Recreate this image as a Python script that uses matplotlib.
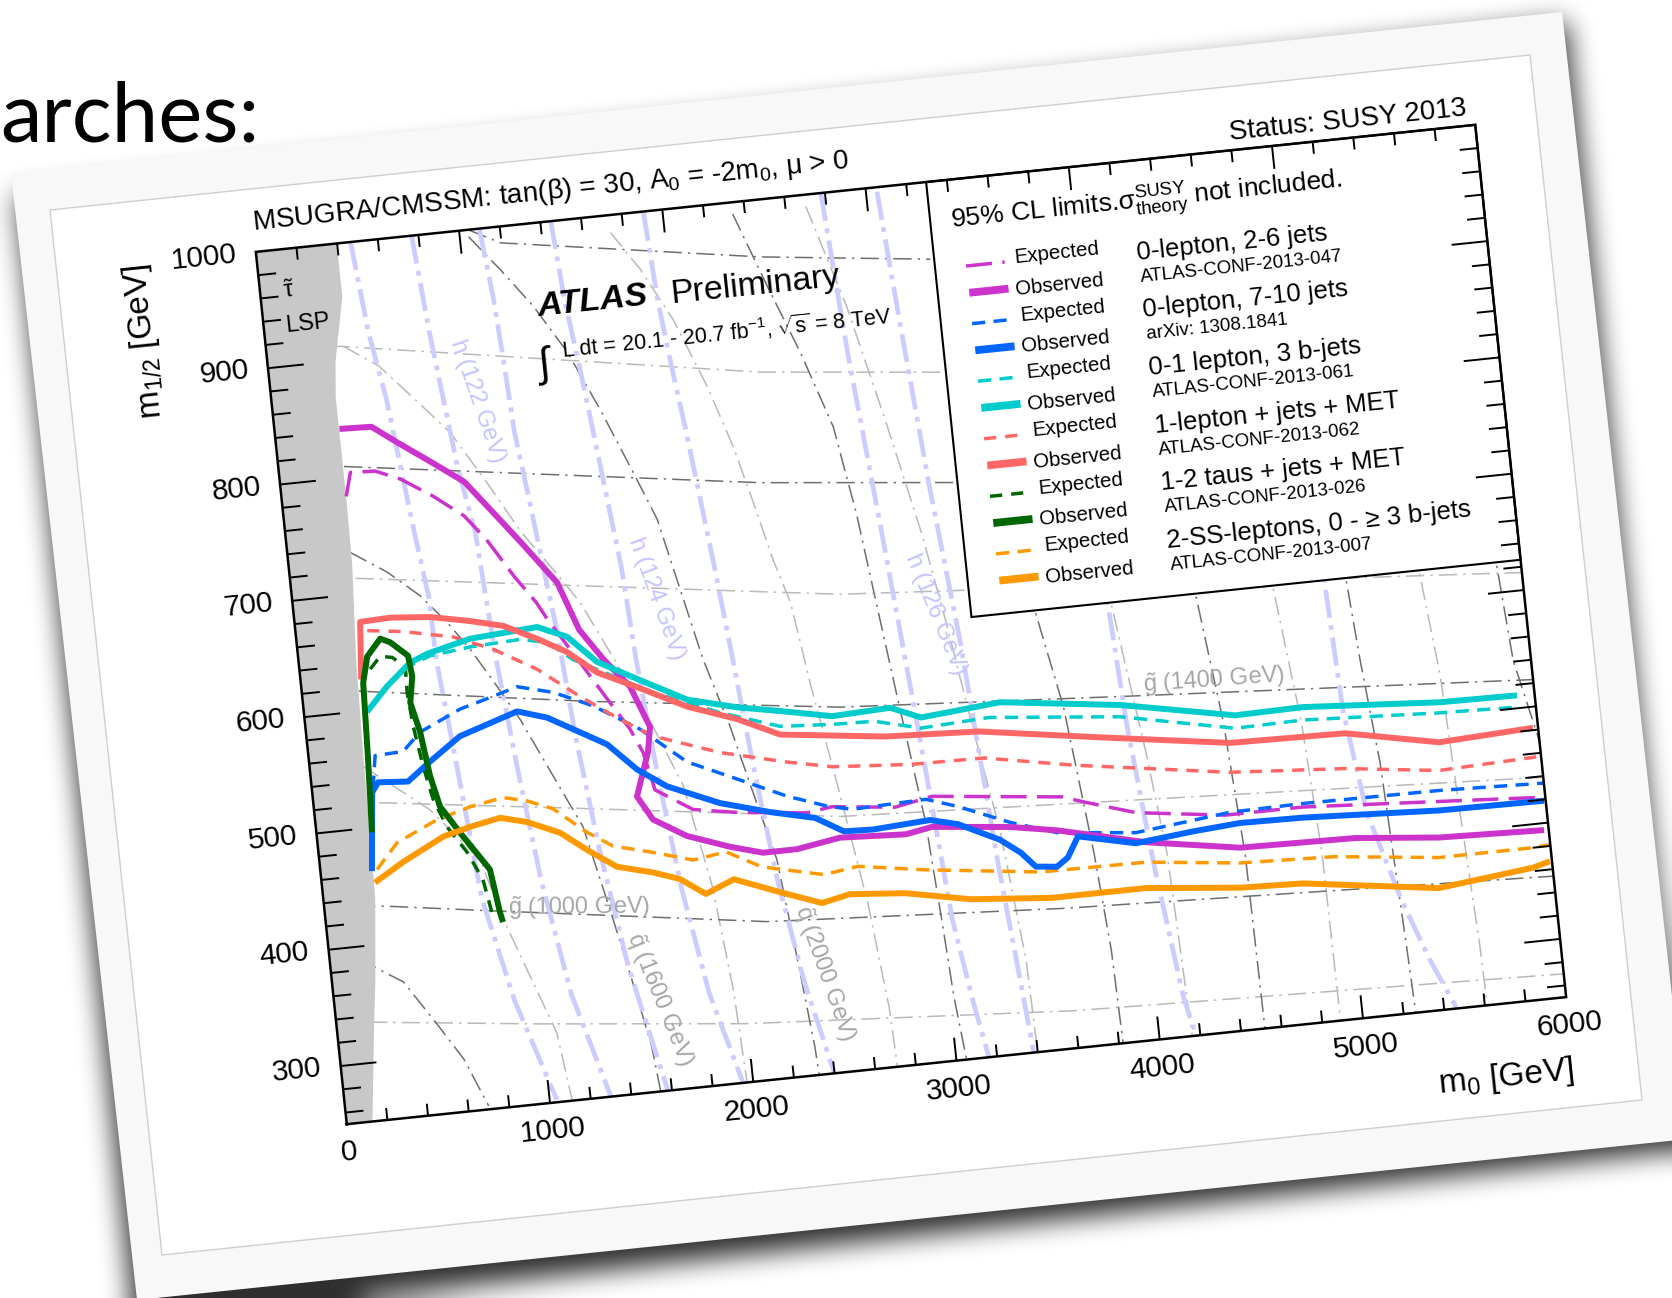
import numpy as np
import matplotlib.pyplot as plt
from matplotlib.collections import LineCollection
from matplotlib.transforms import Affine2D
import mpl_toolkits.axisartist.floating_axes as floating_axes

plt.rcParams['font.family'] = ['Liberation Sans', 'DejaVu Sans']
plt.rcParams['mathtext.fontset'] = 'custom'
plt.rcParams['mathtext.rm'] = 'Liberation Sans'
plt.rcParams['mathtext.it'] = 'Liberation Sans:italic'
plt.rcParams['mathtext.bf'] = 'Liberation Sans:bold'

# ---------------------------------------------------------------
# 95% CL exclusion contours in the (m0, m1/2) plane, GeV
# ---------------------------------------------------------------
m0_0l26_obs = [317, 474, 587, 752, 898, 1024, 1145, 1299, 1382, 1484, 1601, 1678, 1655, 1614, 1579,
               1645, 1802, 2006, 2164, 2331, 2546, 2869, 3000, 3379, 3606, 4033, 4488, 5053, 5462, 5977]
m12_0l26_obs = [842, 841, 826, 805, 786, 757, 729, 692, 650, 623, 597, 561, 540, 520, 503,
                482, 465, 452, 444, 444, 450, 447, 451, 444, 437, 419, 406, 404, 397, 394]
m0_0l26_exp = [316, 348, 470, 588, 735, 880, 976, 1093, 1187, 1232, 1370, 1496, 1579, 1631, 1670,
               1845, 2043, 2398, 2523, 2830, 3015, 3648, 3747, 4000, 4432, 4816, 5993]
m12_0l26_exp = [784, 804, 803, 794, 777, 757, 735, 701, 677, 662, 622, 585, 561, 540, 507,
                487, 481, 474, 477, 471, 477, 465, 459, 445, 435, 435, 422]

m0_0l710_obs = [251, 292, 326, 472, 589, 748, 1039, 1182, 1460, 1593, 1730, 1980, 2218, 2435, 2569,
                2711, 2994, 3127, 3324, 3420, 3485, 3588, 3646, 3705, 3984, 4267, 4501, 4810, 5476, 5992]
m12_0l710_obs = [463, 530, 538, 536, 551, 570, 586, 578, 550, 526, 509, 490, 478, 469, 455,
                 454, 457, 451, 434, 421, 408, 406, 413, 430, 419, 424, 427, 426, 420, 419]
m0_0l710_exp = [298, 325, 463, 556, 762, 930, 1051, 1224, 1411, 1628, 1840, 2075, 2309, 2499, 2619,
                2984, 3136, 3381, 3605, 3989, 4458, 4818, 5486, 6000]
m12_0l710_exp = [533, 561, 562, 577, 593, 601, 607, 599, 584, 560, 528, 509, 490, 478, 473,
                 475, 466, 448, 435, 428, 437, 438, 437, 434]

m0_3b_obs = [308, 419, 543, 630, 847, 1179, 1320, 1453, 1639, 1872, 2111, 2319, 2569, 2856, 3002,
             3394, 3977, 4532, 4867, 5531, 5914]
m12_3b_obs = [599, 619, 637, 643, 652, 656, 645, 621, 603, 581, 570, 563, 554, 556, 545,
              551, 538, 519, 520, 512, 511]
m0_3b_exp = [505, 643, 843, 1090, 1220, 1338, 1477, 1710, 2026, 2311, 2565, 2771, 2997, 3333, 3971,
             4525, 4860, 5526, 5908]
m12_3b_exp = [632, 641, 645, 647, 642, 625, 612, 590, 567, 550, 547, 546, 536, 539, 528,
              508, 509, 503, 501]

m0_1l_obs = [296, 320, 469, 663, 856, 1014, 1173, 1312, 1448, 1635, 1869, 2105, 2307, 2817, 3277,
             3834, 4493, 5058, 5511, 5975]
m12_1l_obs = [627, 676, 677, 674, 667, 660, 646, 632, 612, 596, 575, 560, 543, 532, 528,
              513, 496, 494, 478, 482]
m0_1l_exp = [350, 525, 765, 954, 1158, 1353, 1536, 1688, 2006, 2327, 2544, 2929, 3288, 3718, 4478,
             5040, 5496, 5985]
m12_1l_exp = [668, 664, 655, 641, 620, 593, 570, 553, 533, 519, 511, 506, 505, 491, 471,
              464, 454, 457]

m0_tau_obs = [271, 289, 304, 337, 409, 456, 536, 546, 523, 556, 582, 615, 699, 826, 853, 863]
m12_tau_obs = [496, 559, 624, 646, 660, 656, 643, 625, 603, 577, 539, 512, 488, 454, 417, 408]
m0_tau_exp = [345, 400, 458, 517, 513, 525, 553, 585, 639, 723, 787, 817]
m12_tau_exp = [635, 645, 643, 634, 612, 583, 548, 519, 494, 471, 446, 414]

m0_ss_obs = [260, 407, 615, 751, 902, 1031, 1186, 1309, 1446, 1618, 1746, 1865, 2009, 2226, 2425,
             2566, 2834, 3152, 3547, 4010, 4467, 4777, 5436, 5904, 5990]
m12_ss_obs = [453, 468, 486, 492, 497, 491, 479, 462, 445, 437, 429, 414, 424, 409, 396,
              401, 397, 386, 380, 380, 372, 370, 354, 363, 367]
m0_ss_exp = [277, 388, 594, 761, 926, 1041, 1164, 1317, 1437, 1629, 1820, 1984, 2152, 2449, 2619,
             2948, 3507, 4023, 4480, 4941, 5451, 5914, 5995]
m12_ss_exp = [464, 485, 501, 509, 514, 509, 500, 477, 463, 454, 444, 448, 432, 420, 424,
              415, 403, 402, 393, 390, 380, 380, 381]

# stau-LSP region boundary
lsp_m12 = [250, 335, 370, 440, 560, 645, 725, 780, 870, 900, 955, 1000]
lsp_m0 = [124, 183, 210, 251, 265, 279, 308, 313, 313, 330, 396, 396]

# gluino mass contours (dark: labelled family, light: intermediate)
gl_dark_m0 = [[0, 300, 800, 2150, 3600, 6000], [0, 250, 1400, 2613, 4000, 6000],
              [0, 307, 2338, 3278], [900, 1045, 1196, 2454, 3280]]
gl_dark_m12 = [[436, 432, 419, 385, 370, 354], [622, 618, 588, 561, 545, 523],
               [815, 810, 759, 742], [1010, 1000, 986, 951, 934]]
gl_light_m0 = [[0, 150, 1000, 2000, 3600, 6000], [0, 300, 1165, 2557, 6000],
               [0, 300, 2670, 5850, 6000], [0, 370, 2395, 3271]]
gl_light_m12 = [[338, 335, 318, 300, 282, 270], [525, 521, 501, 468, 439],
                [720, 714, 657, 617, 615], [918, 912, 853, 837]]

# squark mass contours
sq_dark_m0 = [[150, 233, 348, 498, 603, 700],
              [307, 477, 625, 743, 842, 954, 1049, 1181, 1301, 1393, 1461, 1524, 1545],
              [1043, 1182, 1324, 1466, 1597, 1725, 1818, 1970, 2068, 2146, 2228, 2281, 2318, 2325],
              [2340, 2473, 2600, 2722, 2790, 2890, 2970, 3000, 3020, 3050],
              [3560, 3610, 3700, 3775, 3810, 3820],
              [4350, 4400, 4470, 4510, 4518],
              [5110, 5140, 5168, 5213, 5249, 5260],
              [5850, 5880, 5913, 6000]]
sq_dark_m12 = [[390, 379, 366, 325, 295, 253],
               [736, 716, 693, 668, 643, 609, 579, 528, 482, 407, 348, 289, 250],
               [994, 963, 929, 887, 835, 779, 737, 614, 554, 496, 437, 344, 274, 250],
               [990, 925, 866, 800, 725, 574, 457, 371, 305, 250],
               [700, 626, 542, 414, 330, 250],
               [700, 626, 516, 400, 250],
               [700, 626, 555, 466, 307, 250],
               [700, 626, 541, 470]]
sq_light_m0 = [[261, 565, 783, 867, 1069, 1110],
               [378, 541, 697, 855, 1005, 1150, 1300, 1401, 1561, 1693, 1810, 1900, 1950, 1970],
               [1736, 1863, 1998, 2130, 2225, 2294, 2362, 2425, 2482, 2560, 2650, 2700, 2710],
               [2700, 2850, 2980, 3100, 3170, 3250, 3330, 3390, 3400],
               [3930, 3995, 4079, 4130, 4160],
               [4740, 4780, 4850, 4885, 4890],
               [5470, 5500, 5550, 5577, 5606, 5612]]
sq_light_m12 = [[553, 510, 463, 410, 309, 250],
                [912, 892, 861, 829, 784, 738, 700, 673, 613, 561, 508, 420, 330, 250],
                [985, 951, 905, 845, 792, 743, 692, 654, 581, 496, 390, 300, 250],
                [990, 900, 800, 700, 626, 530, 440, 330, 250],
                [700, 611, 495, 408, 250],
                [700, 626, 509, 393, 250],
                [700, 626, 535, 416, 301, 250]]

# light Higgs mass contours
h_m0 = [[466, 507, 561, 595, 629, 668, 671, 720, 772, 880, 1035],
        [766, 804, 838, 872, 926, 945, 963, 1010, 1070, 1160, 1300],
        [1100, 1133, 1152, 1167, 1205, 1239, 1274, 1310, 1370, 1450, 1580],
        [1451, 1478, 1517, 1551, 1585, 1619, 1644, 1690, 1750, 1830, 1950],
        [1907, 1931, 1965, 2004, 2038, 2072, 2110, 2160, 2220, 2300, 2400],
        [2780, 2830, 2899, 2980, 3052, 3110, 3160],
        [3054, 3100, 3160, 3230, 3300, 3381],
        [3940, 3968, 4000, 4060, 4137, 4180],
        [5010, 5034, 5059, 5124, 5248, 5355, 5460]]
h_m12 = [[1000, 922, 863, 805, 748, 689, 637, 540, 430, 340, 252],
         [1000, 916, 858, 800, 742, 684, 632, 540, 440, 340, 250],
         [999, 939, 881, 824, 765, 707, 650, 560, 460, 360, 250],
         [1000, 932, 874, 817, 758, 700, 620, 520, 420, 330, 250],
         [999, 924, 866, 808, 750, 692, 620, 520, 420, 330, 250],
         [1000, 860, 717, 540, 370, 300, 250],
         [996, 880, 740, 608, 420, 250],
         [700, 626, 520, 400, 284, 250],
         [700, 626, 513, 424, 347, 294, 251]]

analyses = ['0-lepton, 2-6 jets', '0-lepton, 7-10 jets', '0-1 lepton, 3 b-jets',
            '1-lepton + jets + MET', '1-2 taus + jets + MET', '2-SS-leptons, 0 - \u2265 3 b-jets']
references = ['ATLAS-CONF-2013-047', 'arXiv: 1308.1841', 'ATLAS-CONF-2013-061',
              'ATLAS-CONF-2013-062', 'ATLAS-CONF-2013-026', 'ATLAS-CONF-2013-007']
colors = ['#cc33cc', '#0066ff', '#00cccc', '#ff6666', '#006600', '#ff9900']
exp_dashes = [(7.5, 3), (3.8, 2.4), (3.8, 2.4), (3.5, 2.6), (3.5, 2.6), (3.8, 2.4)]

x_ticks = [0, 1000, 2000, 3000, 4000, 5000, 6000]
y_ticks = [300, 400, 500, 600, 700, 800, 900, 1000]

# ---------------------------------------------------------------
# slide background with a tilted picture card
# ---------------------------------------------------------------
W, H = 1672, 1298
fig = plt.figure(figsize=(W / 100, H / 100), dpi=100)
fig.patch.set_facecolor('white')

bg = fig.add_axes([0, 0, 1, 1], zorder=0)
bg.set_xlim(0, W)
bg.set_ylim(H, 0)
bg.axis('off')

card_tl, card_tr, card_bl = np.array([11., 173.]), np.array([1562., 12.]), np.array([137., 1300.])
inner_tl, inner_tr, inner_bl = np.array([50., 210.]), np.array([1530., 55.]), np.array([162., 1255.])


def quad(tl, tr_, bl):
    return np.array([tl, tr_, tr_ + bl - tl, bl])


def box_blur(a, r, axis):
    k = 2 * r + 1
    pad = [(0, 0), (0, 0)]
    pad[axis] = (r + 1, r)
    c = np.cumsum(np.pad(a, pad, mode='edge'), axis=axis)
    if axis == 0:
        return (c[k:] - c[:-k]) / k
    return (c[:, k:] - c[:, :-k]) / k


# soft drop shadow below / right of the card
yy, xx = np.mgrid[0:H, 0:W] + 0.5
eu, ev = card_tr - card_tl, card_bl - card_tl
px, py = xx - card_tl[0] - 6, yy - card_tl[1] - 22
u = (px * eu[0] + py * eu[1]) / (eu @ eu)
v = (px * ev[0] + py * ev[1]) / (ev @ ev)
shadow = ((u >= 0) & (u <= 1) & (v >= 0) & (v <= 1)).astype(float)
for _ in range(3):
    shadow = box_blur(shadow, 12, 0)
    shadow = box_blur(shadow, 12, 1)
rgba = np.zeros((H, W, 4))
rgba[..., 3] = 0.82 * shadow
bg.imshow(rgba, extent=(0, W, H, 0), interpolation='bilinear', zorder=0)
bg.add_patch(plt.Polygon(quad(card_tl, card_tr, card_bl), closed=True,
                         facecolor='#f8f8f8', edgecolor='none', zorder=1))
bg.add_patch(plt.Polygon(quad(inner_tl, inner_tr, inner_bl), closed=True,
                         facecolor='white', edgecolor='#cfcfcf', lw=1.0, zorder=2))

fig.text(0.0, 1 - 142 / H, 'arches:', fontsize=60, family=['Lato', 'DejaVu Sans'],
         ha='left', va='baseline', color='black', zorder=5)

# ---------------------------------------------------------------
# rotated plot frame
# ---------------------------------------------------------------
ANG = 5.95
AX_W, AX_H = 1226, 877
tr = Affine2D().scale(AX_W / 6000, AX_H / 750).rotate_deg(ANG)
gh = floating_axes.GridHelperCurveLinear(tr, extremes=(0, 6000, 250, 1000))
ca, sa = np.cos(np.radians(ANG)), np.sin(np.radians(ANG))
bw, bh = 1.02 * (AX_W * ca + AX_H * sa), 1.02 * (AX_W * sa + AX_H * ca)
cx, cy = 911, 624.5
ax = fig.add_axes([(cx - bw / 2) / W, 1 - (cy + bh / 2) / H, bw / W, bh / H],
                  axes_class=floating_axes.FloatingAxes, grid_helper=gh, zorder=1)
ax.axis[:].set_visible(False)
ax.patch.set_facecolor('white')
aux = ax.get_aux_axes(tr)


def curve(x, y, **kw):
    ln, = aux.plot(x, y, solid_capstyle='butt', dash_capstyle='butt', **kw)
    ln.set_clip_path(ax.patch)
    return ln


def label(x, y, s, **kw):
    kw.setdefault('rotation', ANG)
    kw.setdefault('rotation_mode', 'anchor')
    return aux.text(x, y, s, **kw)


gray_dd = (0, (12, 4, 1.5, 4))
for xs, ys in zip(gl_light_m0 + sq_light_m0, gl_light_m12 + sq_light_m12):
    curve(xs, ys, color='#b9b9b9', lw=1.1, ls=gray_dd, zorder=1)
for xs, ys in zip(gl_dark_m0 + sq_dark_m0, gl_dark_m12 + sq_dark_m12):
    curve(xs, ys, color='#6e6e6e', lw=1.1, ls=gray_dd, zorder=1.1)
for xs, ys in zip(h_m0, h_m12):
    curve(xs, ys, color='#ccccff', lw=3.4, ls=(0, (6, 1.6, 1, 1.6)), zorder=1.2)

# stau LSP region
aux.fill_betweenx(lsp_m12, 0, lsp_m0, color='#c8c8c8', lw=0, zorder=2)

# mass contour labels
label(892, 414, r'$\tilde{\rm g}$ (1000 GeV)', fontsize=17, color='#a6a6a6', rotation=0.5, zorder=2)
label(4098, 547, r'$\tilde{\rm g}$ (1400 GeV)', fontsize=17, color='#a6a6a6', rotation=4, zorder=2)
label(1455, 385, r'$\tilde{\rm q}$ (1600 GeV)', fontsize=17, color='#a6a6a6', rotation=-67.8, zorder=2)
label(2288, 394, r'$\tilde{\rm q}$ (2000 GeV)', fontsize=17, color='#a6a6a6', rotation=-70.7, zorder=2)
label(901, 906, 'h (122 GeV)', fontsize=17, color='#c4c4ff', rotation=-70.9, zorder=2)
label(1670, 722, 'h (124 GeV)', fontsize=17, color='#c4c4ff', rotation=-70.0, zorder=2)
label(3009, 683, 'h (126 GeV)', fontsize=17, color='#c4c4ff', rotation=-67.6, zorder=2)
label(139, 964, r'$\tilde{\mathrm{\tau}}$', fontsize=17, ha='center', va='center', zorder=3)
label(108, 929, 'LSP', fontsize=17, zorder=3)

# exclusion contours
obs = [(m0_0l26_obs, m12_0l26_obs), (m0_0l710_obs, m12_0l710_obs), (m0_3b_obs, m12_3b_obs),
       (m0_1l_obs, m12_1l_obs), (m0_tau_obs, m12_tau_obs), (m0_ss_obs, m12_ss_obs)]
exp = [(m0_0l26_exp, m12_0l26_exp), (m0_0l710_exp, m12_0l710_exp), (m0_3b_exp, m12_3b_exp),
       (m0_1l_exp, m12_1l_exp), (m0_tau_exp, m12_tau_exp), (m0_ss_exp, m12_ss_exp)]
for (xe, ye), (xo, yo), col, dsh in zip(exp, obs, colors, exp_dashes):
    curve(xe, ye, color=col, lw=2.5, ls=(0, dsh), zorder=3)
    curve(xo, yo, color=col, lw=4.3, zorder=3.5)

# legend box in the upper right corner of the frame
aux.fill([3298, 6000, 6000, 3298], [626, 626, 1000, 1000], facecolor='white',
         edgecolor='black', lw=1.5, zorder=5)
label(3400, 958, r'95% CL limits.$\mathrm{\sigma}^{\rm SUSY}_{\rm theory}$ not included.', fontsize=19, zorder=6)
for i, (name, ref, col, dsh) in enumerate(zip(analyses, references, colors, exp_dashes)):
    ye, yo = 925 - 49.5 * i, 902 - 49.5 * i
    aux.plot([3450, 3640], [ye, ye], color=col, lw=2.5, ls=(0, dsh), zorder=6)
    aux.plot([3452, 3645], [yo, yo], color=col, lw=5.6, solid_capstyle='butt', zorder=6)
    label(3687, ye - 2, 'Expected', fontsize=14.7, zorder=6)
    label(3680, yo - 6, 'Observed', fontsize=14.7, zorder=6)
    label(4289, 915 - 49.5 * i, name, fontsize=18.5, zorder=6)
    label(4294, 896 - 49.5 * i, ref, fontsize=13.5, zorder=6)

# frame and ROOT-style inward ticks on all four sides
aux.plot([0, 6000, 6000, 0, 0], [250, 250, 1000, 1000, 250], color='black', lw=1.8,
         solid_joinstyle='miter', zorder=8, clip_on=False)
segs = []
for x in range(200, 6000, 200):
    tl = 19.7 if x % 1000 == 0 else 10.3
    segs += [[(x, 250), (x, 250 + tl)], [(x, 1000), (x, 1000 - tl)]]
for y in range(260, 1000, 20):
    tl = 176 if y % 100 == 0 else 88
    segs += [[(0, y), (tl, y)], [(6000, y), (6000 - tl, y)]]
aux.add_collection(LineCollection(segs, colors='black', linewidths=1.4, zorder=8))

for xv in x_ticks:
    label(xv, 226, str(xv), fontsize=21.5, ha='center', va='center')
for yv in y_ticks:
    label(-95, yv, str(yv), fontsize=21.5, ha='right', va='center')
label(6000, 180, r'm$_{0}$ [GeV]', fontsize=24, ha='right', va='baseline')
label(-545, 1000, r'm$_{1/2}$ [GeV]', fontsize=24, ha='right', va='baseline', rotation=90 + ANG)

# headers
label(0, 1019, r'MSUGRA/CMSSM: tan($\mathrm{\beta}$) = 30, A$_{0}$ = -2m$_{0}$, $\mathrm{\mu}$ > 0',
      fontsize=20)
label(5966, 1009, 'Status: SUSY 2013', fontsize=20, ha='right')
label(1344, 920, 'ATLAS', fontsize=24.5, fontweight='bold', fontstyle='italic', zorder=6)
label(2000, 920, 'Preliminary', fontsize=24.5, zorder=6)
label(1322, 868, '\u222b', fontsize=30, zorder=6)
label(1437, 883, r'L dt = 20.1 - 20.7 fb$^{-1}$, $\sqrt{\rm s}$ = 8 TeV', fontsize=15.5, zorder=6)

fig.savefig('out.png', dpi=100, facecolor='white')
